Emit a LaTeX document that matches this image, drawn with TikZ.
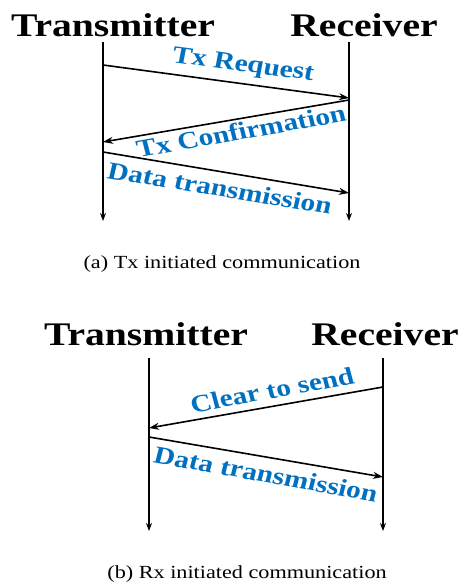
\documentclass[tikz,border=0pt]{standalone}
\usepackage{fontspec}
\setmainfont{Liberation Serif}
\usepackage{tikz}
\usetikzlibrary{arrows.meta}
\definecolor{msgblue}{RGB}{0,112,192}

\begin{document}
\begin{tikzpicture}[x=1pt,y=-1pt,
  headtxt/.style={font=\fontsize{33}{36}\selectfont\bfseries, xscale=1.2, inner sep=0pt, anchor=base},
  msgtxt/.style={font=\fontsize{24.5}{27}\selectfont\bfseries, text=msgblue, xscale=1.2, inner sep=0pt},
  captxt/.style={font=\fontsize{18.5}{21}\selectfont, xscale=1.2, inner sep=0pt, anchor=base},
  life/.style={line width=1.6pt, -{Stealth[length=8pt,width=6pt]}},
  msgarrow/.style={line width=1.6pt, -{Stealth[length=10pt,width=7pt]}}]
\useasboundingbox (0,0) rectangle (458,583);

% (a) Tx initiated: headers and lifelines
\node[headtxt] (txA) at (113,37) {Transmitter};
\node[headtxt] (rxA) at (364,37) {Receiver};
\foreach \n/\x in {txA/103, rxA/349} {
    \coordinate (\n top) at (\x,42);
    \coordinate (\n bot) at (\x,221);
    \draw[life] (\n top) -- (\n bot);
}

% (a) messages
\coordinate (reqS) at (103,65);  \coordinate (reqE) at (349,98);
\coordinate (cnfS) at (349,100); \coordinate (cnfE) at (103,142);
\coordinate (datAS) at (103,152); \coordinate (datAE) at (349,193);
\draw[msgarrow] (reqS) -- (reqE);
\draw[msgarrow] (cnfS) -- (cnfE);
\draw[msgarrow] (datAS) -- (datAE);
\node[msgtxt, rotate=-9] (reqLbl) at (243,66) {Tx Request};
\node[msgtxt, rotate=12] (cnfLbl) at (241,131) {Tx Confirmation};
\node[msgtxt, rotate=-11] (datALbl) at (220,188) {Data transmission};

\node[captxt] (capA) at (222,268) {(a) Tx initiated communication};

% (b) Rx initiated: headers and lifelines
\node[headtxt] (txB) at (146,345) {Transmitter};
\node[headtxt] (rxB) at (385,345) {Receiver};
\foreach \n/\x in {txB/149, rxB/383} {
    \coordinate (\n top) at (\x,358);
    \coordinate (\n bot) at (\x,531);
    \draw[life] (\n top) -- (\n bot);
}

% (b) messages
\coordinate (ctsS) at (383,387); \coordinate (ctsE) at (149,428);
\coordinate (datBS) at (149,437); \coordinate (datBE) at (383,477);
\draw[msgarrow] (ctsS) -- (ctsE);
\draw[msgarrow] (datBS) -- (datBE);
\node[msgtxt, rotate=12.5] (ctsLbl) at (272,390) {Clear to send};
\node[msgtxt, rotate=-12] (datBLbl) at (266,474) {Data transmission};

\node[captxt] (capB) at (247,578) {(b) Rx initiated communication};
\end{tikzpicture}
\end{document}
